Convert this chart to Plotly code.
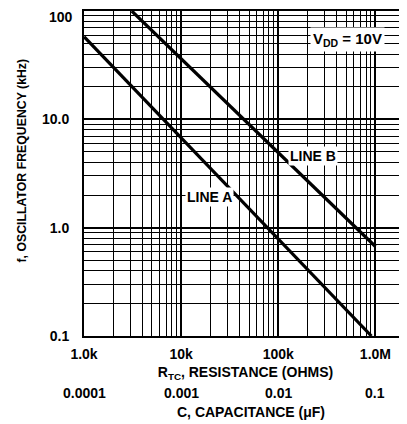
import numpy as np
import plotly.graph_objects as go

# Data
line_a_r = [1000, 910000]          # ohms
line_a_f = [58, 0.1]               # kHz
line_b_r = [3100, 1000000]
line_b_f = [100, 0.67]

res_ticks = [1000, 10000, 100000, 1000000]
res_labels = ["1.0k", "10k", "100k", "1.0M"]
cap_labels = ["0.0001", "0.001", "0.01", "0.1"]
freq_ticks = [0.1, 1, 10, 100]
freq_labels = ["0.1", "1.0", "10.0", "100"]

x_minor = [m * 10 ** d for d in range(3, 7) for m in range(2, 10)]
y_minor = [m * 10 ** d for d in range(-1, 2) for m in range(2, 10)]

FONT = "Liberation Sans, Arial"


def bold(size):
    return dict(family=FONT, size=size, color="black", weight="bold")


fig = go.Figure()
fig.add_trace(go.Scatter(x=line_a_r, y=line_a_f, mode="lines",
                         line=dict(color="black", width=3.2), showlegend=False))
fig.add_trace(go.Scatter(x=line_b_r, y=line_b_f, mode="lines",
                         line=dict(color="black", width=3.2), showlegend=False))

fig.update_xaxes(type="log", range=[3, 6.325], automargin=False,
                 tickmode="array", tickvals=res_ticks, ticktext=res_labels,
                 showgrid=True, gridcolor="black", gridwidth=1.8,
                 minor=dict(tickmode="array", tickvals=x_minor, showgrid=True,
                            gridcolor="black", gridwidth=1.4, ticklen=0),
                 showline=True, linecolor="black", linewidth=2, mirror=True,
                 ticks="", ticklabelstandoff=4, tickfont=bold(14),
                 ticklabeloverflow="allow",
                 title=dict(text="R<sub>TC</sub>, RESISTANCE (OHMS)",
                            font=bold(14), standoff=6))

# the top label sits at the page edge, so it is drawn as an annotation below
y_ticktext = freq_labels[:-1] + [""]
fig.update_yaxes(type="log", range=[-1, 2], automargin=False,
                 tickmode="array", tickvals=freq_ticks, ticktext=y_ticktext,
                 showgrid=True, gridcolor="black", gridwidth=1.8,
                 minor=dict(tickmode="array", tickvals=y_minor, showgrid=True,
                            gridcolor="black", gridwidth=1.4, ticklen=0),
                 showline=True, linecolor="black", linewidth=2, mirror=False,
                 ticks="", ticklabelstandoff=10, tickfont=bold(14),
                 ticklabeloverflow="allow")

annotations = []
annotations.append(dict(x=0, y=1, xref="paper", yref="paper", xanchor="right",
                        yanchor="top", xshift=-10, yshift=3, text=freq_labels[-1],
                        showarrow=False, font=bold(14), borderpad=0))
for r, c in zip(res_ticks, cap_labels):
    annotations.append(dict(x=np.log10(r), y=-0.175, xref="x", yref="paper",
                            yanchor="middle", text=c, showarrow=False,
                            font=bold(14)))
annotations.append(dict(x=0.517, y=-0.234, xref="paper", yref="paper",
                        yanchor="middle", text="C, CAPACITANCE (\u03bcF)",
                        showarrow=False, font=bold(14)))
annotations.append(dict(x=-0.192, y=0.54, xref="paper", yref="paper",
                        xanchor="center", yanchor="middle", textangle=-90,
                        text="f, OSCILLATOR FREQUENCY (kHz)", showarrow=False,
                        font=bold(12.3)))
annotations.append(dict(x=np.log10(520000), y=np.log10(55), xref="x", yref="y",
                        text="V<sub>DD</sub> = 10V", showarrow=False, bgcolor="white",
                        borderpad=2, font=bold(15)))
annotations.append(dict(x=np.log10(230000), y=np.log10(4.6), xref="x", yref="y",
                        text="LINE B", showarrow=False, bgcolor="white", borderpad=1,
                        font=bold(14)))
annotations.append(dict(x=np.log10(19700), y=np.log10(1.9), xref="x", yref="y",
                        text="LINE A", showarrow=False, bgcolor="white", borderpad=1,
                        font=bold(14)))

# page body has an 8px default margin, compensated here
fig.update_layout(width=399, height=416,
                  margin=dict(l=76, r=0, t=3, b=88),
                  paper_bgcolor="white", plot_bgcolor="white",
                  annotations=annotations)

fig.write_html("out.html")
